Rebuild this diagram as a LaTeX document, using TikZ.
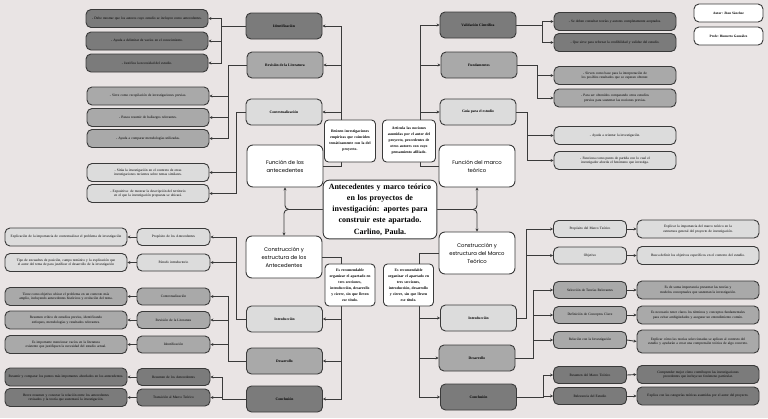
\documentclass[tikz,border=0pt]{standalone}
\usepackage{fontspec}
\setmainfont{Liberation Serif}
\newfontfamily\headfont{Poppins}
\usetikzlibrary{positioning, arrows.meta}
\definecolor{bggray}{HTML}{E9E4E4}
\definecolor{darkfill}{HTML}{7B7B7B}
\definecolor{midfill}{HTML}{A9A9A9}
\definecolor{lightfill}{HTML}{DCDCDC}
\definecolor{linegray}{HTML}{3A3A3A}
\hyphenpenalty=10000
\exhyphenpenalty=10000

\tikzset{
  pill/.style={draw=linegray, line width=0.9pt, rounded corners=5pt, align=center,
               inner sep=1pt, font=\fontsize{3.5}{4.6}\selectfont},
  topic/.style={pill, minimum width=76pt, minimum height=26pt, font=\fontsize{3.7}{4.6}\selectfont\bfseries},
  subtopic/.style={pill, minimum width=73pt, minimum height=17pt, text width=70pt},
  info/.style={pill, minimum width=122pt, minimum height=18pt, text width=116pt},
  headbox/.style={draw=linegray, line width=0.9pt, fill=white, rounded corners=6pt, align=center,
                  minimum width=76pt, minimum height=42pt, font=\headfont\fontsize{5.3}{8}\selectfont},
  notebox/.style={draw=linegray, line width=0.9pt, fill=white, rounded corners=4pt, align=center,
                  inner sep=1pt, minimum height=42pt, font=\fontsize{3.8}{6}\selectfont\bfseries},
  conn/.style={draw=linegray, line width=0.9pt},
  arr/.style={conn, -{Stealth[length=3pt, width=3pt]}},
}

\begin{document}
\begin{tikzpicture}[x=1pt, y=-1pt]
  \fill[bggray] (0,0) rectangle (768,418);
  \useasboundingbox (0,0) rectangle (768,418);

  % centre and the four branches
  \node[draw=linegray, line width=0.9pt, fill=white, rounded corners=6pt, align=center,
        minimum width=111pt, minimum height=57pt, text width=107pt,
        font=\fontsize{8}{11.3}\selectfont\bfseries] (title) at (380,209.5)
    {Antecedentes y marco teórico\\en los proyectos de\\investigación: aportes para\\construir este apartado.\\Carlino, Paula.};
  \node[headbox] (fa) at (285,166) {Función de los\\antecedentes};
  \node[headbox] (fm) at (477,166) {Función del marco\\teórico};
  \node[headbox] (ca) at (284,257) {Construcción y\\estructura de los\\Antecedentes};
  \node[headbox] (cm) at (477,253) {Construcción y\\estructura del Marco\\Teórico};

  \node[pill, fill=white, minimum width=69pt, minimum height=18pt, font=\fontsize{3.4}{4.2}\selectfont\bfseries] (aut) at (728.5,13) {Autor: Jhon Sánchez};
  \node[pill, fill=white, minimum width=69pt, minimum height=18pt, font=\fontsize{3.4}{4.2}\selectfont\bfseries] (prof) at (728.5,36) {Profe: Humerto González};

  % function of the antecedents
  \node[topic, fill=darkfill] (tid) at (284,26) {Identificación};
  \node[topic, fill=midfill] (trev) at (285,65) {Revisión de la Literatura};
  \node[topic, fill=lightfill] (tcon) at (284,112) {Contextualización};

  \node[info, fill=darkfill] (ti1) at (147,18.5) {- Debe mostrar que los autores cuyo estudio se incluyen como antecedentes.};
  \node[info, fill=darkfill] (ti2) at (147,41) {- Ayuda a delimitar de vacíos en el conocimiento.};
  \node[info, fill=darkfill] (ti3) at (147,63) {- Justifica la necesidad del estudio.};
  \node[info, fill=midfill] (tr1) at (148,96) {- Sirve como recopilación de investigaciones previas.};
  \node[info, fill=midfill] (tr2) at (148,117.5) {- Busca resumir de hallazgos relevantes.};
  \node[info, fill=midfill] (tr3) at (148,138.5) {- Ayuda a comparar metodologías utilizadas.};
  \node[info, fill=lightfill] (tc1) at (148,172.5) {- Sitúa la investigación en el contexto de otras investigaciones recientes sobre temas similares.};
  \node[info, fill=lightfill] (tc2) at (148,193.5) {- Expositiva: de mostrar la descripción del territorio en el que la investigación propuesta se ubicará.};

  % function of the theoretical framework
  \node[topic, fill=darkfill] (tval) at (478,25) {Validación Científica};
  \node[topic, fill=midfill] (tfun) at (479,65) {Fundamentos};
  \node[topic, fill=lightfill] (tgui) at (478,112) {Guía para el estudio};

  \node[info, fill=darkfill] (tv1) at (615,21.5) {- Se deben consultar teorías y autores completamente aceptados.};
  \node[info, fill=darkfill] (tv2) at (615,42.5) {- Que sirve para reforzar la credibilidad y validez del estudio.};
  \node[info, fill=midfill] (tf1) at (615,75.5) {- Sirven como base para la interpretación de los posibles resultados que se esperan obtener.};
  \node[info, fill=midfill] (tf2) at (615,98) {- Para ser obtenidos comparando otros estudios previos para sustentar las nociones previas.};
  \node[info, fill=lightfill] (tg1) at (615,135.5) {- Ayuda a orientar la investigación.};
  \node[info, fill=lightfill] (tg2) at (615,160.5) {- Funciona como punto de partida con lo cual el investigador aborda el fenómeno que investiga.};

  % building the antecedents
  \node[topic, fill=lightfill] (bli) at (284.5,319) {Introducción};
  \node[topic, fill=midfill] (bld) at (284.5,361) {Desarrollo};
  \node[topic, fill=darkfill] (blc) at (284.5,399) {Conclusión};

  \node[subtopic, fill=lightfill] (lp) at (173.5,237) {Propósito de los Antecedentes};
  \node[subtopic, fill=lightfill] (lpi) at (173.5,262.5) {Párrafo introductorio};
  \node[subtopic, fill=midfill] (lc) at (173.5,296.5) {Contextualización};
  \node[subtopic, fill=midfill] (lr) at (173.5,320) {Revisión de la Literatura};
  \node[subtopic, fill=midfill] (lid) at (173.5,344.5) {Identificación};
  \node[subtopic, fill=darkfill] (lres) at (173.5,377) {Resumen de los Antecedentes};
  \node[subtopic, fill=darkfill] (ltr) at (173.5,397.5) {Transición al Marco Teórico};

  \node[info, fill=lightfill] (le1) at (66,237) {Explicación de la importancia de contextualizar el problema de investigación};
  \node[info, fill=lightfill] (le2) at (66,262.5) {Tipo de encuadres de posición, campo temático y la explicación que el autor del tema de para justificar el desarrollo de la investigación};
  \node[info, fill=midfill] (le3) at (66,296.5) {Tiene como objetivo ubicar el problema en un contexto más amplio, incluyendo antecedentes históricos y evolución del tema.};
  \node[info, fill=midfill] (le4) at (66,320) {Resumen crítico de estudios previos, identificando enfoques, metodologías y resultados relevantes.};
  \node[info, fill=midfill] (le5) at (66,344.5) {Es importante mencionar vacíos en la literatura existente que justifiquen la necesidad del estudio actual.};
  \node[info, fill=darkfill] (le6) at (66,377) {Resumir y comparar los puntos más importantes abordados en los antecedentes.};
  \node[info, fill=darkfill] (le7) at (66,397.5) {Breve resumen y conectar la relación entre los antecedentes revisados y la teoría que sustentará la investigación.};

  % building the theoretical framework
  \node[topic, fill=lightfill] (bri) at (478.5,318) {Introducción};
  \node[topic, fill=midfill] (brd) at (477,358) {Desarrollo};
  \node[topic, fill=darkfill] (brc) at (478.5,397) {Conclusión};

  \node[subtopic, fill=lightfill] (rp) at (590,229) {Propósito del Marco Teórico};
  \node[subtopic, fill=lightfill] (ro) at (590,255.5) {Objetivo};
  \node[subtopic, fill=midfill] (rs) at (590,290) {Selección de Teorías Relevantes};
  \node[subtopic, fill=midfill] (rd) at (590,315) {Definición de Conceptos Clave};
  \node[subtopic, fill=midfill] (rrel) at (590,340) {Relación con la Investigación};
  \node[subtopic, fill=darkfill] (rres) at (590,375) {Resumen del Marco Teórico};
  \node[subtopic, fill=darkfill] (rrv) at (590,396) {Relevancia del Estudio};

  \node[info, fill=lightfill] (re1) at (698,229) {Explicar la importancia del marco teórico en la estructura general del proyecto de investigación.};
  \node[info, fill=lightfill] (re2) at (698,255.5) {Busca definir los objetivos específicos en el contexto del estudio.};
  \node[info, fill=midfill] (re3) at (698,290) {Es de suma importancia presentar las teorías y modelos conceptuales que sustentan la investigación.};
  \node[info, fill=midfill] (re4) at (698,315) {Es necesario tener claros los términos y conceptos fundamentales para evitar ambigüedades y asegurar un entendimiento común.};
  \node[info, fill=midfill, minimum height=23pt] (re5) at (698,341.5) {Explicar cómo las teorías seleccionadas se aplican al contexto del estudio y ayudarán a crear una comprensión teórica de algo concreto.};
  \node[info, fill=darkfill] (re6) at (698,374.5) {Comprender mejor cómo contribuyen las investigaciones precedentes que incluye un fenómeno particular.};
  \node[info, fill=darkfill] (re7) at (698,396) {Explica con las categorías teóricas asumidas por el autor del proyecto.};

  % connectors
  \draw[arr, rounded corners=4pt] (title.west) -| (fa.south);
  \draw[arr, rounded corners=4pt] (title.west) -| (ca.north);
  \draw[arr, rounded corners=4pt] (title.east) -| (fm.south);
  \draw[arr, rounded corners=4pt] (title.east) -| (cm.north);

  \foreach \t in {tid,trev,tcon} \draw[arr] (fa.east) -- (341,166) |- (\t.east);
  \foreach \t in {tval,tfun,tgui} \draw[arr] (fm.west) -- (420,166) |- (\t.west);
  \foreach \t in {bli,bld,blc} \draw[arr] (ca.east) -- (341,257) |- (\t.east);
  \foreach \t in {bri,brd,brc} \draw[arr] (cm.west) -- (419,253) |- (\t.west);

  \foreach \t in {ti1,ti2,ti3} \draw[arr] (tid.west) -- (221,26) |- (\t.east);
  \foreach \t in {tr1,tr2,tr3} \draw[arr] (trev.west) -- (228,65) |- (\t.east);
  \foreach \t in {tc1,tc2} \draw[arr] (tcon.west) -- (236,112) |- (\t.east);
  \foreach \t in {tv1,tv2} \draw[arr] (tval.east) -- (542,25) |- (\t.west);
  \foreach \t in {tf1,tf2} \draw[arr] (tfun.east) -- (537,65) |- (\t.west);
  \foreach \t in {tg1,tg2} \draw[arr] (tgui.east) -- (527,112) |- (\t.west);

  \foreach \t in {lp,lpi} \draw[arr] (bli.west) -- (236,319) |- (\t.east);
  \foreach \t in {lc,lr,lid} \draw[arr] (bld.west) -- (228,361) |- (\t.east);
  \foreach \t in {lres,ltr} \draw[arr] (blc.west) -- (222,399) |- (\t.east);
  \foreach \t in {rp,ro} \draw[arr] (bri.east) -- (526,318) |- (\t.west);
  \foreach \t in {rs,rd,rrel} \draw[arr] (brd.east) -- (533,358) |- (\t.west);
  \foreach \t in {rres,rrv} \draw[arr] (brc.east) -- (543,397) |- (\t.west);

  \foreach \a/\b in {lp/le1,lpi/le2,lc/le3,lr/le4,lid/le5,lres/le6,ltr/le7}
    \draw[arr] (\a.west) -- (\b.east);
  \foreach \a/\b in {rp/re1,ro/re2,rs/re3,rd/re4,rrel/re5,rres/re6,rrv/re7}
    \draw[arr] (\a.east) -- (\b.west);

  % notes laid over the connectors
  \node[notebox, minimum width=51pt, text width=49pt] (nr) at (350,141)
    {Reúnen investigaciones\\empíricas que coinciden\\temáticamente con la del\\proyecto.};
  \node[notebox, minimum width=53pt, text width=51pt] (na) at (409,141)
    {Articula las nociones\\asumidas por el autor del\\proyecto, procedentes de\\otros autores con cuyo\\pensamiento afiliado.};
  \node[notebox, minimum width=50pt, text width=48pt] (nl) at (350,285)
    {Es recomendable\\organizar el apartado en\\tres secciones,\\introducción, desarrollo\\y cierre, sin que lleven\\ese título.};
  \node[notebox, minimum width=50pt, text width=48pt] (nm) at (408.5,285)
    {Es recomendable\\organizar el apartado en\\tres secciones,\\introducción, desarrollo\\y cierre, sin que lleven\\ese título.};
\end{tikzpicture}
\end{document}
